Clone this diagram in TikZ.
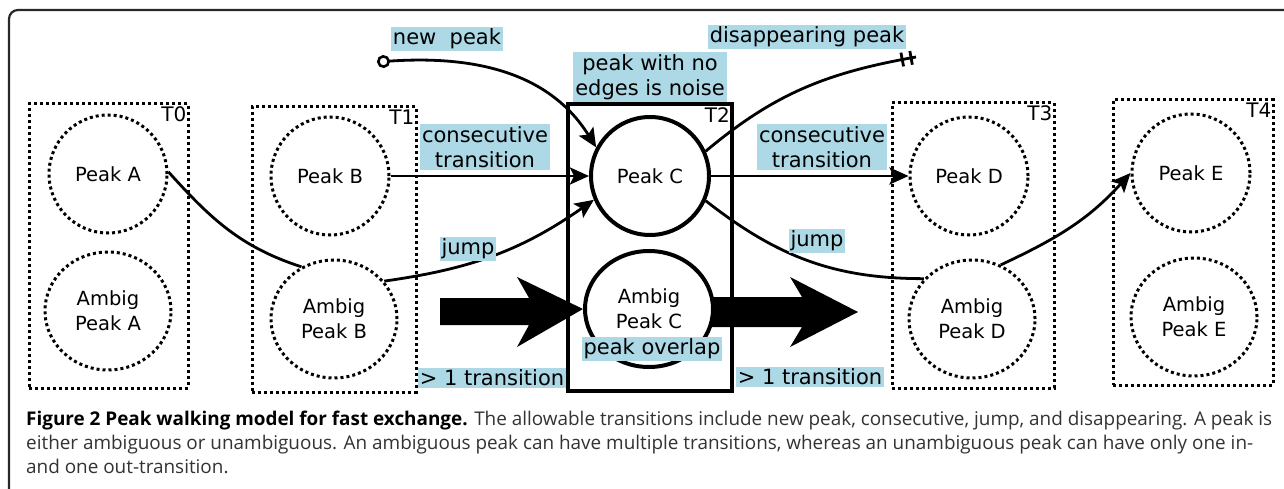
\documentclass[tikz,border=0pt]{standalone}
\usepackage{fontspec}
\setmainfont{DejaVu Sans}
\newfontfamily\capfont{Open Sans}
\usetikzlibrary{arrows.meta,shapes.geometric,decorations.markings}
\definecolor{lblue}{RGB}{173,216,230}
\definecolor{framec}{RGB}{40,40,40}
\definecolor{captxt}{RGB}{51,51,51}
\begin{document}
\begin{tikzpicture}[x=1pt,y=-1pt,
  dotline/.style={line width=3pt, dash pattern=on 3pt off 3pt},
  dbox/.style={draw, dotline, inner sep=0pt},
  sbox/.style={draw, line width=4pt, inner sep=0pt},
  nodefont/.style={font=\fontsize{19.5}{25}\selectfont},
  dpeak/.style={circle, draw, dotline, minimum size=118pt, inner sep=0pt, align=center, nodefont},
  dambig/.style={ellipse, draw, dotline, minimum width=126pt, minimum height=118pt, inner sep=0pt, align=center, nodefont},
  speak/.style={circle, draw, line width=4pt, minimum size=118pt, inner sep=0pt, align=center, nodefont},
  sambig/.style={ellipse, draw, line width=4pt, minimum width=128pt, minimum height=116pt, inner sep=0pt, align=center, nodefont},
  tlab/.style={anchor=north east, inner sep=0pt, font=\fontsize{20}{22}\selectfont},
  lab/.style={fill=lblue, inner sep=2pt, align=center, font=\fontsize{21}{25}\selectfont},
  conn/.style={line width=2.8pt},
  arr/.style={conn, -{Stealth[length=19pt, width=17pt, inset=4pt]}},
  captext/.style={anchor=base west, inner sep=0pt, text=captxt, font=\capfont\fontsize{18.9}{24}\selectfont}
]
\useasboundingbox (0,0) rectangle (1284,489);
\clip (0,0) rectangle (1284,489);
\fill[white] (0,0) rectangle (1284,489);
% frame
\draw[framec, line width=2.2pt, rounded corners=9pt] (9,10) rectangle (1310,530);

% time boxes
\node[dbox, minimum width=159pt, minimum height=284pt] (T0) at (108.5,246) {};
\node[dbox, minimum width=164pt, minimum height=285pt] (T1) at (334,249.5) {};
\node[sbox, minimum width=164pt, minimum height=287pt] (T2) at (650,247.5) {};
\node[dbox, minimum width=162pt, minimum height=285pt] (T3) at (973,245.5) {};
\node[dbox, minimum width=160pt, minimum height=285pt] (T4) at (1193,242.5) {};
\node[tlab] (t0) at ([xshift=-3pt,yshift=-4pt]T0.north east) {T0};
\node[tlab] (t1) at ([xshift=-3pt,yshift=-4pt]T1.north east) {T1};
\node[tlab] (t2) at ([xshift=-4pt,yshift=-5pt]T2.north east) {T2};
\node[tlab] (t3) at ([xshift=-3pt,yshift=-4pt]T3.north east) {T3};
\node[tlab] (t4) at ([xshift=-3pt,yshift=-4pt]T4.north east) {T4};

% peaks
\node[dpeak] (A) at (108,174) {Peak A};
\node[dambig] (AA) at (108,311) {Ambig\\Peak A};
\node[dpeak] (B) at (330,176) {Peak B};
\node[dambig] (AB) at (334,319) {Ambig\\Peak B};
\node[speak] (C) at (650,176) {Peak C};
\node[sambig] (AC) at (649,309) {Ambig\\Peak C};
\node[dpeak] (D) at (969,176) {Peak D};
\node[dambig] (AD) at (972,319) {Ambig\\Peak D};
\node[dpeak] (E) at (1191,173) {Peak E};
\node[dambig] (AE) at (1194,317) {Ambig\\Peak E};

% free ends
\coordinate (np) at (377,62);
\coordinate (dp) at (916,57);

% connectors
\draw[conn, {Circle[open, length=13pt, width=13pt, line width=2.6pt]}-{Stealth[length=19pt, width=17pt, inset=4pt]}]
  (np) to[out=4, in=122] (C.152);
\draw[arr] (B.east) -- (C.west);
\draw[arr] (AB.37) to[out=8, in=215] (C.203);
\draw[conn] (A.2) to[out=-48, in=162] (AB.122);
\draw[conn, postaction={decorate, decoration={markings,
    mark=at position -5pt with {\draw[line width=2.8pt] (0pt,-7pt) -- (0pt,7pt);},
    mark=at position -14pt with {\draw[line width=2.8pt] (0pt,-7pt) -- (0pt,7pt);}}}]
  (C.24) to[out=40, in=190] (dp);
\draw[arr] (C.east) -- (D.west);
\draw[conn] (C.-24) to[out=-38, in=180] (AD.140);
\draw[arr] (AD.62) to[out=25, in=228] (E.180);

% fat arrows
\fill[black] (440,298) -- (529,298) -- (517,277) -- (AC.west) -- (517,347) -- (529,325) -- (440,325) -- cycle;
\fill[black] (711,297) -- (802,297) -- (790,277) -- (858,312) -- (790,347) -- (802,327) -- (711,327) -- cycle;

% labels
\node[lab] (lnew) at (447,39) {new\ \ peak};
\node[lab] (lnoise) at (650,77) {peak with no\\edges is noise};
\node[lab] (ldis) at (807,37) {disappearing peak};
\node[lab] (lcons1) at (485,147) {consecutive\\transition};
\node[lab] (lcons2) at (822,147) {consecutive\\transition};
\node[lab] (ljump1) at (468,249) {jump};
\node[lab] (ljump2) at (817,241) {jump};
\node[lab] (ltr1) at (492,378) {> 1 transition};
\node[lab] (ltr2) at (810,377) {> 1 transition};
\node[lab] (lover) at (652,349) {peak overlap};

% caption
\node[captext] (cap1) at (26,425) {\textcolor{black}{\bfseries Figure 2 Peak walking model for fast exchange.} The allowable transitions include new peak, consecutive, jump, and disappearing. A peak is};
\node[captext] (cap2) at (26,449) {either ambiguous or unambiguous. An ambiguous peak can have multiple transitions, whereas an unambiguous peak can have only one in-};
\node[captext] (cap3) at (26,473) {and one out-transition.};
\end{tikzpicture}
\end{document}
